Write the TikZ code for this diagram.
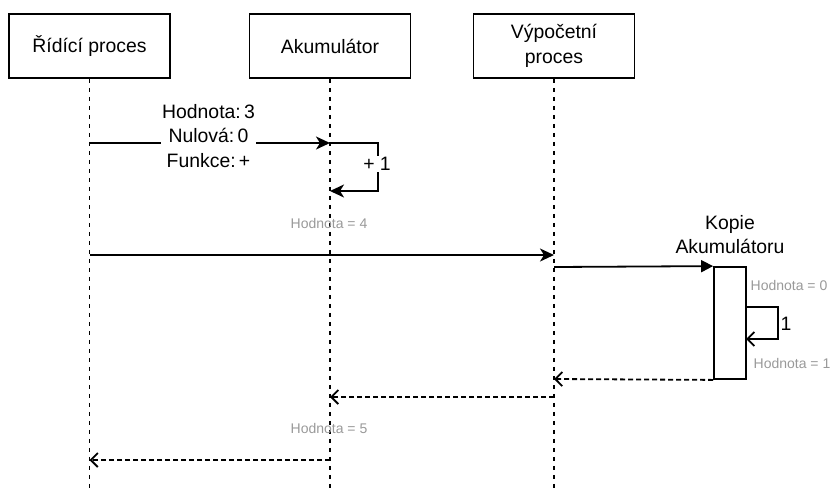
\documentclass[tikz,border=0pt]{standalone}
\usepackage{fontspec}
\setmainfont{Liberation Sans}
\usetikzlibrary{arrows.meta}
\definecolor{lblgray}{RGB}{153,153,153}
\begin{document}
\begin{tikzpicture}[x=1pt,y=-1pt,
  font=\fontsize{19.4}{24.5}\selectfont,
  lw/.style={line width=1.8pt},
  actor/.style={draw, lw, minimum width=161pt, minimum height=64pt, align=center, inner sep=0pt},
  life/.style={lw, dash pattern=on 4.5pt off 4.5pt},
  msg/.style={lw, -{Stealth[length=14pt,width=13pt,inset=4pt]}},
  blk/.style={lw, -{Triangle[length=12pt,width=12pt]}},
  opentip/.style={-{Straight Barb[length=7pt,width=14pt]}},
  ret/.style={lw, dash pattern=on 5pt off 3pt, opentip},
  note/.style={text=lblgray, font=\fontsize{14}{17}\selectfont, inner sep=0pt},
]
\useasboundingbox (0,0) rectangle (832,491);
% actors
\node[actor] (n1) at (89.5,46) {Řídící proces};
\node[actor] (n2) at (330,46) {Akumulátor};
\node[actor] (n3) at (554,46) {Výpočetní\\proces};
% lifeline ends
\coordinate (e1) at (89.5,491);
\coordinate (e2) at (330,491);
\coordinate (e3) at (554,491);
\draw[life] (n1.south) -- (e1);
\draw[life] (n2.south) -- (e2);
\draw[life] (n3.south) -- (e3);
% message 1
\coordinate (a1) at (89.5,143);
\coordinate (b1) at (330,143);
\coordinate (b1r) at (330,191);
\draw[msg] (a1) -- (b1);
\node[fill=white, align=center, inner sep=1pt] (lab1) at (208.5,136) {Hodnota:\,3\\Nulová:\,0\\Funkce:\,+};
\draw[msg] (b1) -- ++(48,0) |- (b1r);
\node[fill=white, inner sep=1pt] (plus1) at (377,164) {+ 1};
\node[note] (h4) at (329,223) {Hodnota = 4};
% message 2
\coordinate (a2) at (89.5,255);
\coordinate (c2) at (554,255);
\draw[msg] (a2) -- (c2);
% activation
\node[draw, lw, fill=white, minimum width=32pt, minimum height=112pt, inner sep=0pt] (act) at (730,323) {};
\node[align=center, inner sep=0pt, anchor=south] (kop) at (730,254) {Kopie\\Akumulátoru};
\coordinate (c3) at (554,267);
\draw[blk] (c3) -- (act.north west);
\node[note] (h0) at (789,285) {Hodnota = 0};
\coordinate (s1) at (746,307);
\coordinate (s2) at (746,339);
\draw[lw, opentip] (s1) -- ++(32,0) |- (s2);
\node[inner sep=0pt] (one) at (786,324) {1};
\node[note] (h1) at (792,363) {Hodnota = 1};
% returns
\coordinate (c4) at (554,379);
\draw[ret] (act.south west) -- (c4);
\coordinate (c5) at (554,397);
\coordinate (b5) at (330,397);
\draw[ret] (c5) -- (b5);
\node[note] (h5) at (329,428) {Hodnota = 5};
\coordinate (b6) at (330,460);
\coordinate (a6) at (89.5,460);
\draw[ret] (b6) -- (a6);
\end{tikzpicture}
\end{document}
